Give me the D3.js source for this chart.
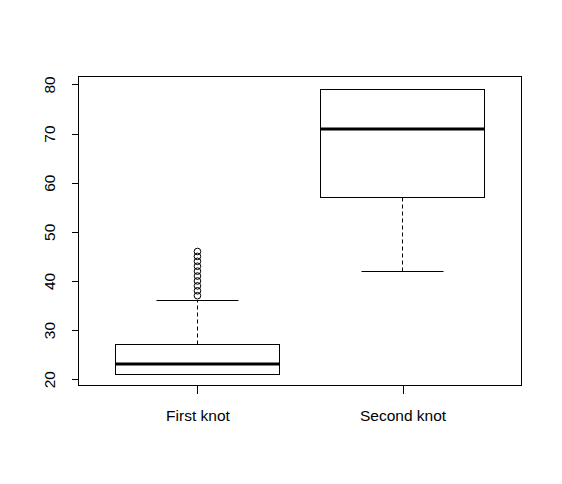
<!DOCTYPE html>
<html>
<head>
<meta charset="utf-8">
<script src="https://cdn.jsdelivr.net/npm/d3@7"></script>
<style>
  html, body { margin: 0; padding: 0; background: #ffffff; }
  svg { display: block; }
  text { font-family: "Liberation Sans", Arial, sans-serif; fill: #000; }
</style>
</head>
<body>
<svg id="chart" width="562" height="484"></svg>
<script>
// ---- data ----
const categories   = ["First knot", "Second knot"];
const lowerWhisker = [21, 42];
const q1           = [21, 57];
const medians      = [23, 71];
const q3           = [27, 79];
const upperWhisker = [36, 79];
const outliers     = [[37, 38, 39, 40, 41, 42, 43, 44, 45, 46], []];
const yTicks       = [20, 30, 40, 50, 60, 70, 80];

// ---- layout ----
const svg = d3.select("#chart");
const plotLeft = 78.5, plotRight = 521.5, plotTop = 76.5, plotBottom = 385.5;

const x = d3.scaleLinear().domain([0.42, 2.58]).range([plotLeft, plotRight]);
const y = d3.scaleLinear().domain([18.72, 81.62]).range([plotBottom, plotTop]);

const boxHalf = 0.4, stapleHalf = 0.2;
const snap = v => Math.round(v - 0.5) + 0.5;

const boxes = categories.map((c, i) => ({
  i, c, lo: lowerWhisker[i], q1: q1[i], med: medians[i], q3: q3[i], hi: upperWhisker[i], out: outliers[i]
}));

const g = svg.append("g");

boxes.forEach(b => {
  const cx = snap(x(b.i + 1));
  // whiskers (dashed)
  if (b.hi > b.q3) {
    g.append("line").attr("x1", cx).attr("x2", cx)
      .attr("y1", snap(y(b.q3))).attr("y2", snap(y(b.hi)))
      .attr("stroke", "#000").attr("stroke-width", 1).attr("stroke-dasharray", "4,3");
  }
  if (b.lo < b.q1) {
    g.append("line").attr("x1", cx).attr("x2", cx)
      .attr("y1", snap(y(b.q1))).attr("y2", snap(y(b.lo)))
      .attr("stroke", "#000").attr("stroke-width", 1).attr("stroke-dasharray", "4,3");
  }
  // staples
  [b.lo, b.hi].forEach(v => {
    g.append("line")
      .attr("x1", snap(x(b.i + 1 - stapleHalf))).attr("x2", snap(x(b.i + 1 + stapleHalf)))
      .attr("y1", snap(y(v))).attr("y2", snap(y(v)))
      .attr("stroke", "#000").attr("stroke-width", 1);
  });
  // box
  const bx0 = snap(x(b.i + 1 - boxHalf)), bx1 = snap(x(b.i + 1 + boxHalf));
  const by0 = snap(y(b.q3)), by1 = snap(y(b.q1));
  g.append("rect").attr("x", bx0).attr("y", by0)
    .attr("width", bx1 - bx0).attr("height", by1 - by0)
    .attr("fill", "none").attr("stroke", "#000").attr("stroke-width", 1);
  // median
  g.append("line").attr("x1", bx0).attr("x2", bx1)
    .attr("y1", Math.round(y(b.med))).attr("y2", Math.round(y(b.med)))
    .attr("stroke", "#000").attr("stroke-width", 3);
  // outliers
  g.selectAll(null).data(b.out).enter().append("circle")
    .attr("cx", x(b.i + 1)).attr("cy", d => y(d)).attr("r", 3.3)
    .attr("fill", "none").attr("stroke", "#000").attr("stroke-width", 1);
});

// frame
svg.append("rect").attr("x", plotLeft).attr("y", plotTop)
  .attr("width", plotRight - plotLeft).attr("height", plotBottom - plotTop)
  .attr("fill", "none").attr("stroke", "#000").attr("stroke-width", 1);

// y axis
const yAxis = d3.axisLeft(y).tickValues(yTicks).tickSize(7).tickPadding(0).tickFormat(d3.format("d"));
const ya = svg.append("g").attr("transform", `translate(${plotLeft},0)`).call(yAxis);
ya.select(".domain").remove();
ya.selectAll(".tick line").attr("stroke", "#000").attr("shape-rendering", "crispEdges");
ya.selectAll(".tick text")
  .attr("x", 0).attr("y", 0)
  .attr("dy", null)
  .attr("text-anchor", "middle")
  .attr("transform", "translate(-24,0) rotate(-90)")
  .style("font-size", "15.5px")
  .style("font-family", "'Liberation Sans', Arial, sans-serif")
  .attr("fill", "#000");

// x axis
const xAxis = d3.axisBottom(x).tickValues([1, 2]).tickSize(8).tickPadding(0)
  .tickFormat(d => categories[d - 1]);
const xa = svg.append("g").attr("transform", `translate(0,${plotBottom})`).call(xAxis);
xa.select(".domain").remove();
xa.selectAll(".tick line").attr("stroke", "#000").attr("shape-rendering", "crispEdges");
xa.selectAll(".tick text")
  .attr("y", 35).attr("dy", null)
  .style("font-size", "15.5px")
  .style("font-family", "'Liberation Sans', Arial, sans-serif")
  .attr("fill", "#000");
</script>
</body>
</html>
